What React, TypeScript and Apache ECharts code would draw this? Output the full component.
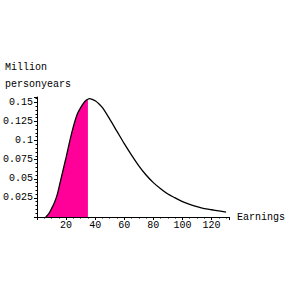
import React, { useEffect, useRef } from "react";
import * as echarts from "echarts";

const earnings = [6, 8, 10, 12, 14, 16, 18, 20, 22, 24, 26, 28, 30, 32, 34, 35, 36, 38, 40, 42, 45, 50, 55, 60, 65, 70, 75, 80, 85, 90, 95, 100, 105, 110, 115, 120, 125, 130];
const density = [0, 0.004, 0.011, 0.019, 0.030, 0.046, 0.062, 0.078, 0.095, 0.111, 0.125, 0.136, 0.143, 0.149, 0.153, 0.154, 0.155, 0.154, 0.152, 0.149, 0.143, 0.128, 0.112, 0.096, 0.081, 0.067, 0.055, 0.045, 0.037, 0.030, 0.025, 0.020, 0.0165, 0.0135, 0.011, 0.0095, 0.008, 0.0065];
const shadeLimit = 35;
const yTicks = [0.025, 0.05, 0.075, 0.1, 0.125, 0.15];
const xTicks = [20, 40, 60, 80, 100, 120];
const yTitle = ["Million", "personyears"];
const xTitle = "Earnings";

const FONT = "'Liberation Mono', 'DejaVu Sans Mono', monospace";

export default function App() {
  const ref = useRef<HTMLDivElement>(null);
  useEffect(() => {
    if (!ref.current) return;
    const chart = echarts.init(ref.current, null, { renderer: "svg" });
    const curve = earnings.map((x, i) => [x, density[i]]);
    const shaded = curve.filter((p) => p[0] <= shadeLimit);
    chart.setOption({
      animation: false,
      backgroundColor: "#ffffff",
      grid: { left: 36, top: 97, width: 193, height: 120, containLabel: false },
      xAxis: {
        type: "value",
        min: 0,
        max: 132,
        interval: 20,
        name: xTitle,
        nameLocation: "end",
        nameGap: 8,
        nameTextStyle: { fontFamily: FONT, fontSize: 10, color: "#000", verticalAlign: "middle" },
        axisLine: { show: true, lineStyle: { color: "#000", width: 1 } },
        axisTick: { show: true, length: 3, lineStyle: { color: "#000" } },
        minorTick: { show: true, splitNumber: 4, length: 1.5, lineStyle: { color: "#000" } },
        splitLine: { show: false },
        axisLabel: {
          fontFamily: FONT,
          fontSize: 10,
          color: "#000",
          margin: 3,
          formatter: (v: number) => (xTicks.includes(v) ? String(v) : ""),
        },
      },
      yAxis: {
        type: "value",
        min: 0,
        max: 0.157,
        interval: 0.025,
        axisLine: { show: true, lineStyle: { color: "#000", width: 1 } },
        axisTick: { show: true, length: 3, lineStyle: { color: "#000" } },
        minorTick: { show: true, splitNumber: 5, length: 1.5, lineStyle: { color: "#000" } },
        splitLine: { show: false },
        axisLabel: {
          fontFamily: FONT,
          fontSize: 10,
          color: "#000",
          margin: 4,
          formatter: (v: number) => {
            const t = yTicks.find((k) => Math.abs(k - v) < 1e-9);
            return t === undefined ? "" : String(t);
          },
        },
      },
      graphic: [
        { type: "text", left: 5, top: 62, style: { text: yTitle[0], font: `10px ${FONT}`, fill: "#000" } },
        { type: "text", left: 5, top: 79, style: { text: yTitle[1], font: `10px ${FONT}`, fill: "#000" } },
      ],
      series: [
        {
          type: "line",
          data: shaded,
          symbol: "none",
          smooth: 0.3,
          lineStyle: { width: 0 },
          areaStyle: { color: "#ff0099", opacity: 1 },
          z: 2,
        },
        {
          type: "line",
          data: curve,
          symbol: "none",
          smooth: 0.3,
          lineStyle: { color: "#000", width: 1.3 },
          z: 3,
        },
      ],
    });
    return () => chart.dispose();
  }, []);
  return <div ref={ref} style={{ position: "fixed", left: 0, top: 0, width: 288, height: 288 }} />;
}
